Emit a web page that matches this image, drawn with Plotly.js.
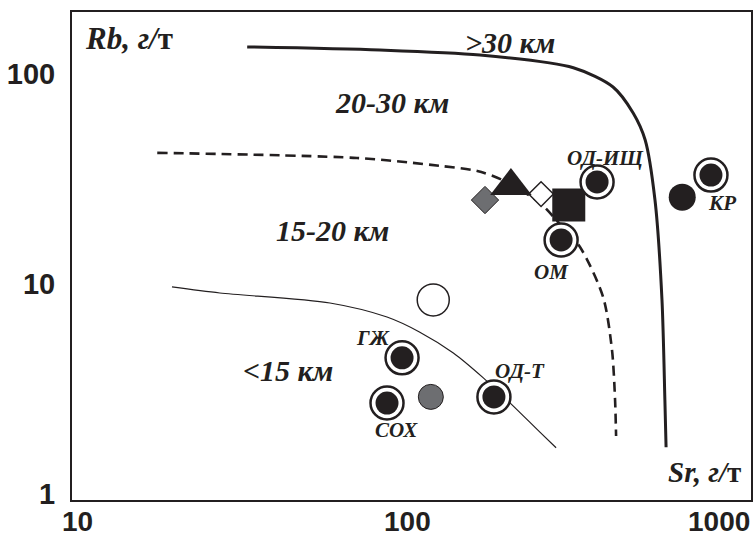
<!DOCTYPE html>
<html>
<head>
<meta charset="utf-8">
<script src="https://cdn.plot.ly/plotly-3.0.1.min.js"></script>
<style>html,body{margin:0;padding:0;background:#fff;}#chart{width:755px;height:538px;}</style>
</head>
<body>
<div id="chart"></div>
<script>
// ---- data (Sr, Rb in g/t) ----
const xTickVals = [10, 100, 1000];
const xTickText = ['10', '100', '1000'];
const yTickVals = [1, 10, 100];
const yTickText = ['1', '10', '100'];

// boundary curves
const curve30Sr = [32.9, 82.8, 166, 318, 419, 482, 524, 561, 589, 601, 606];
const curve30Rb = [134.5, 130, 123, 107, 86.7, 65.2, 48.5, 25.1, 8.4, 2.81, 1.67];
const curve20Sr = [17.6, 70.6, 126, 163, 194, 252, 286, 333, 391, 416, 425, 428];
const curve20Rb = [42.1, 39.8, 36.5, 34.5, 31.3, 24.3, 19.7, 15, 8.67, 4.85, 2.81, 1.89];
const curve15Sr = [19.5, 27.2, 58.5, 87, 109, 138, 170, 205, 252, 282];
const curve15Rb = [9.68, 9.06, 8.12, 6.96, 5.91, 4.69, 3.57, 2.71, 1.97, 1.66];

// samples
const ringNames = ['ОД-ИЩ', 'ОМ', 'КР', 'ГЖ', 'СОХ', 'ОД-Т'];
const ringSr = [375, 292, 828, 96.6, 87, 183];
const ringRb = [30.6, 16.2, 33, 4.45, 2.71, 2.9];
const blackCircleSr = [678];
const blackCircleRb = [25.9];
const whiteCircleSr = [120];
const whiteCircleRb = [8.4];
const grayCircleSr = [118];
const grayCircleRb = [2.9];
const grayDiamondSr = [172];
const grayDiamondRb = [25.1];
const whiteDiamondSr = [254];
const whiteDiamondRb = [26.8];
const triangleSr = [206];
const triangleRb = [29.3];
const squareSr = [308];
const squareRb = [23.8];

const zoneLabels = ['>30 км', '20-30 км', '15-20 км', '<15 км'];
const axisLabelsA = ['Rb, г/', 'Sr, г/'];
const unitTail = 'т';

// ---- styles ----
const INK = '#231f20';
const GRAY = '#6d6e71';
const serif = 'Liberation Serif, Times New Roman, serif';
const sans = 'Liberation Sans, Arial, sans-serif';

const traces = [
  {x: curve30Sr, y: curve30Rb, mode: 'lines', line: {color: INK, width: 3, shape: 'spline', smoothing: 0.8}},
  {x: curve20Sr, y: curve20Rb, mode: 'lines', line: {color: INK, width: 2.6, dash: '10px,6px', shape: 'spline', smoothing: 0.8}},
  {x: curve15Sr, y: curve15Rb, mode: 'lines', line: {color: INK, width: 1.2, shape: 'spline', smoothing: 0.8}},
  {x: grayDiamondSr, y: grayDiamondRb, mode: 'markers', marker: {symbol: 'diamond', size: 21, color: GRAY, line: {color: INK, width: 1}}},
  {x: whiteDiamondSr, y: whiteDiamondRb, mode: 'markers', marker: {symbol: 'diamond', size: 19, color: '#fff', line: {color: INK, width: 1.5}}},
  {x: triangleSr, y: triangleRb, mode: 'markers', marker: {symbol: 'triangle-up', size: 36, color: INK, line: {width: 0}}},
  {x: squareSr, y: squareRb, mode: 'markers', marker: {symbol: 'square', size: 33, color: INK, line: {width: 0}}},
  {x: whiteCircleSr, y: whiteCircleRb, mode: 'markers', marker: {symbol: 'circle', size: 32, color: '#fff', line: {color: INK, width: 1.5}}},
  {x: grayCircleSr, y: grayCircleRb, mode: 'markers', marker: {symbol: 'circle', size: 25, color: GRAY, line: {color: INK, width: 1}}},
  {x: blackCircleSr, y: blackCircleRb, mode: 'markers', marker: {symbol: 'circle', size: 27, color: INK, line: {width: 0}}},
  {x: ringSr, y: ringRb, mode: 'markers', marker: {symbol: 'circle', size: 33, color: '#fff', line: {color: INK, width: 2.5}}},
  {x: ringSr, y: ringRb, mode: 'markers', text: ringNames, marker: {symbol: 'circle', size: 23, color: INK, line: {width: 0}}}
];

function lab(text, lx, ly, size, anchor) {
  return {text: '<b><i>' + text + '</i></b>', x: lx, y: ly, xref: 'x', yref: 'y',
    showarrow: false, xanchor: anchor || 'center', yanchor: 'middle',
    font: {family: serif, size: size, color: INK}};
}
const upright = '<span style="font-style:normal">' + unitTail + '</span>';

const annotations = [
  lab(zoneLabels[0], 2.311, 2.152, 30),
  lab(zoneLabels[1], 1.955, 1.862, 30),
  lab(zoneLabels[2], 1.776, 1.257, 30),
  lab(zoneLabels[3], 1.640, 0.590, 30),
  lab(ringNames[0], 2.598, 1.60, 21),
  lab(ringNames[1], 2.435, 1.057, 21),
  lab(ringNames[2], 2.952, 1.386, 21),
  lab(ringNames[3], 1.897, 0.743, 21),
  lab(ringNames[4], 1.967, 0.305, 21),
  lab(ringNames[5], 2.341, 0.586, 21),
  lab(axisLabelsA[0] + upright, 1.021, 2.171, 31, 'left'),
  lab(axisLabelsA[1] + upright, 3.015, 0.105, 29, 'right')
];
// x tick labels
const xShift = [2, 0, -19];
xTickVals.forEach((v, i) => {
  annotations.push({text: '<b>' + xTickText[i] + '</b>', x: Math.log10(v), y: 0, xref: 'x', yref: 'paper',
    showarrow: false, xanchor: 'center', yanchor: 'top', xshift: xShift[i], yshift: -4,
    font: {family: sans, size: 28, color: INK}});
});

const layout = {
  width: 755, height: 538,
  margin: {l: 72, r: 4, t: 12, b: 38},
  paper_bgcolor: '#fff', plot_bgcolor: '#fff',
  showlegend: false,
  xaxis: {type: 'log', range: [0.988, 3.039], showgrid: false, zeroline: false,
    showline: true, mirror: true, linecolor: INK, linewidth: 2,
    tickvals: xTickVals, ticktext: xTickText, showticklabels: false, ticks: ''},
  yaxis: {type: 'log', range: [-0.0286, 2.295], showgrid: false, zeroline: false,
    showline: true, mirror: true, linecolor: INK, linewidth: 2,
    tickvals: yTickVals, ticktext: yTickText.map(t => '<b>' + t + '</b>'),
    ticks: 'outside', ticklen: 9, tickcolor: 'rgba(0,0,0,0)',
    tickfont: {family: sans, size: 29, color: INK}},
  annotations: annotations
};

Plotly.newPlot('chart', traces, layout, {displayModeBar: false, staticPlot: true});
</script>
</body>
</html>
